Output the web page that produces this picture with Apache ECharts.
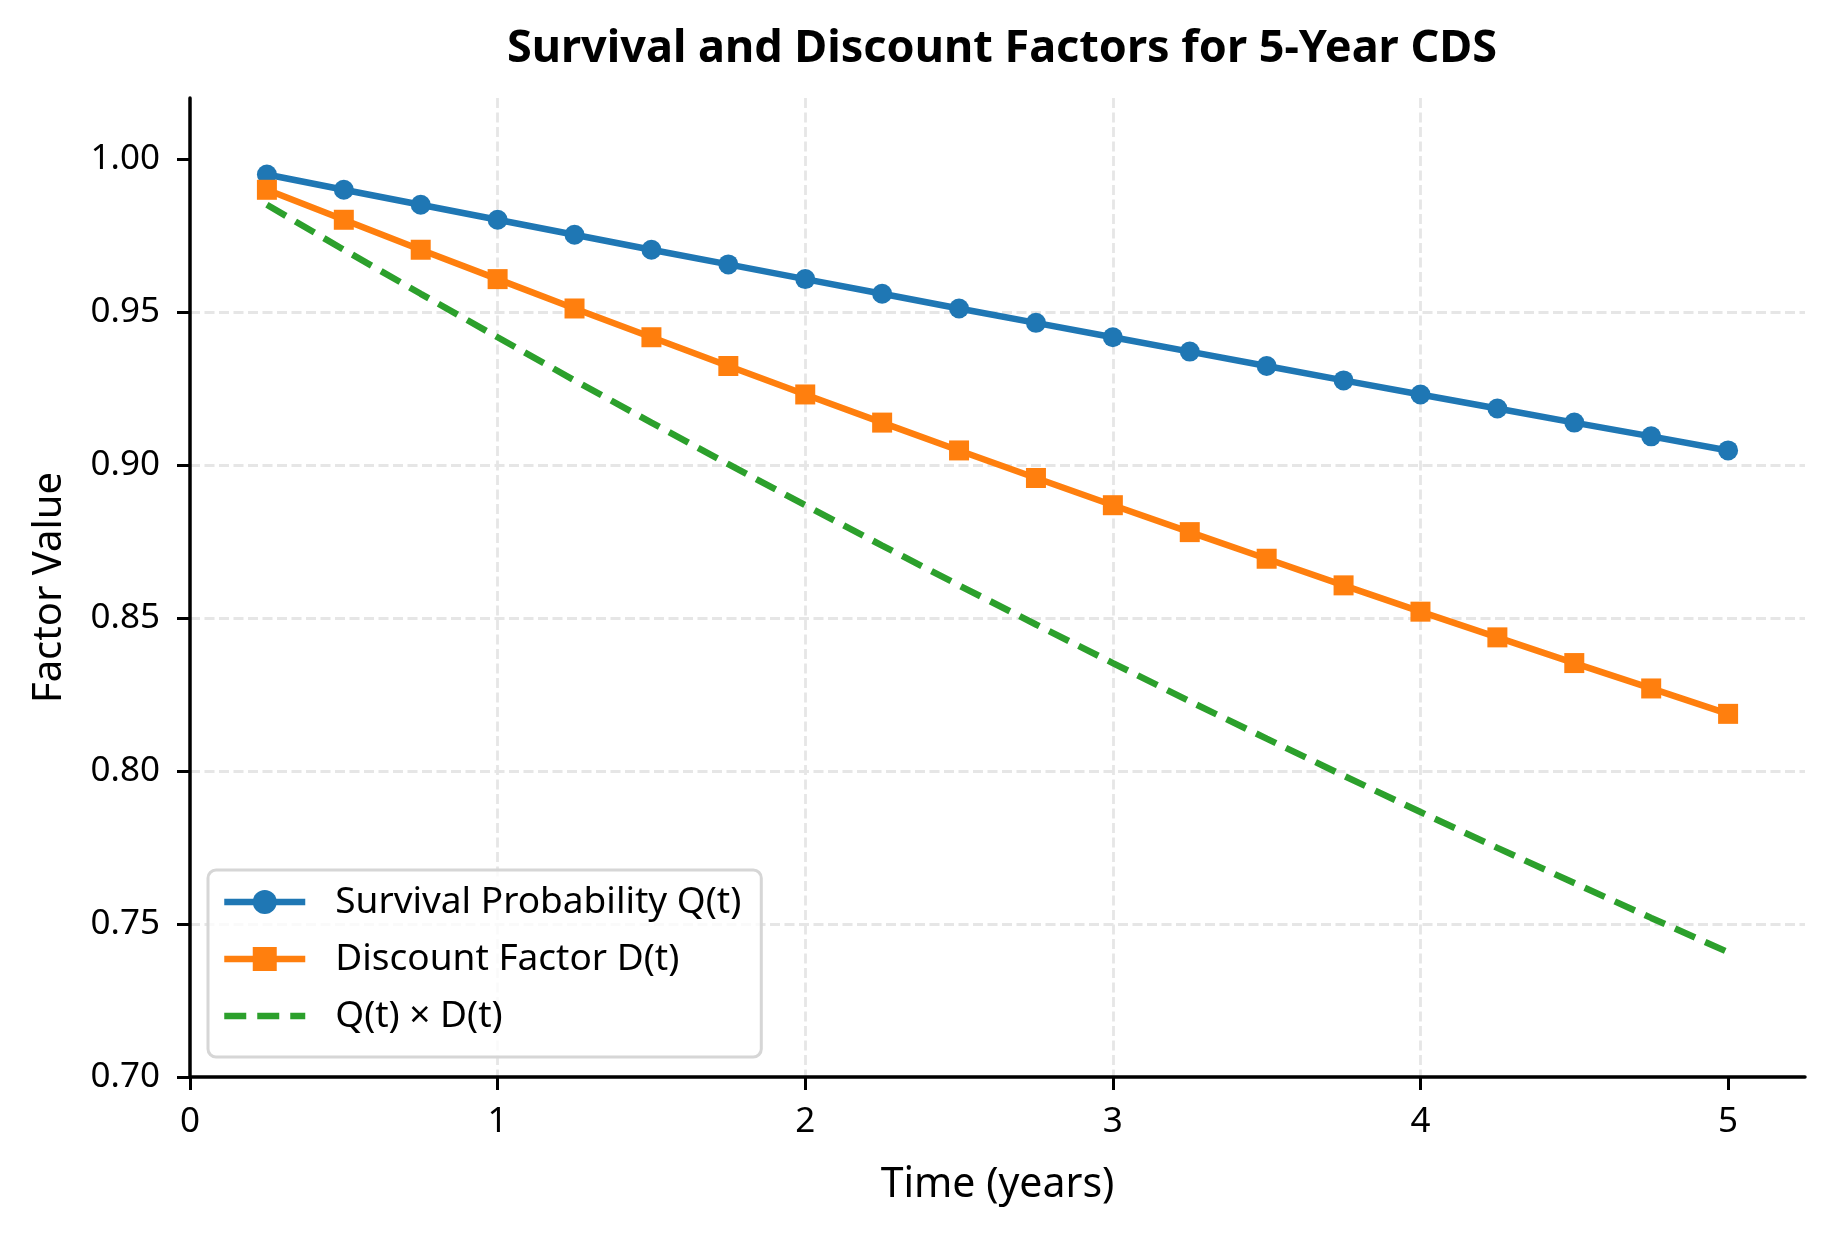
<!DOCTYPE html>
<html>
<head>
<meta charset="utf-8">
<script src="https://cdn.jsdelivr.net/npm/echarts@6/dist/echarts.min.js"></script>
<style>
html,body{margin:0;padding:0;background:#fff;}
#chart{width:1834px;height:1234px;}
</style>
</head>
<body>
<div id="chart"></div>
<script>
const times = [0.25,0.5,0.75,1,1.25,1.5,1.75,2,2.25,2.5,2.75,3,3.25,3.5,3.75,4,4.25,4.5,4.75,5];
const survival = [0.9950,0.9900,0.9851,0.9802,0.9753,0.9704,0.9656,0.9608,0.9560,0.9512,0.9465,0.9418,0.9371,0.9324,0.9277,0.9231,0.9185,0.9139,0.9094,0.9048];
const discount = [0.9900,0.9802,0.9704,0.9608,0.9512,0.9418,0.9324,0.9231,0.9139,0.9048,0.8958,0.8869,0.8781,0.8694,0.8607,0.8521,0.8437,0.8353,0.8270,0.8187];
const product = [0.9851,0.9704,0.9560,0.9418,0.9277,0.9139,0.9003,0.8869,0.8737,0.8607,0.8479,0.8353,0.8228,0.8106,0.7985,0.7866,0.7749,0.7634,0.7520,0.7408];
const xTicks = [0,1,2,3,4,5];
const yTicks = [0.70,0.75,0.80,0.85,0.90,0.95,1.00];
const seriesNames = ['Survival Probability Q(t)','Discount Factor D(t)','Q(t) × D(t)'];

const FONT = 'Noto Sans';
const pair = arr => times.map((t,i)=>[t,arr[i]]);
const chart = echarts.init(document.getElementById('chart'));
const gridLine = {show:true, lineStyle:{color:'#e6e6e6', width:2.8, type:[10,4.5]}};
chart.setOption({
  animation:false,
  backgroundColor:'#ffffff',
  textStyle:{fontFamily:FONT},
  title:{
    text:'Survival and Discount Factors for 5-Year CDS',
    left:997, top:22, textAlign:'center',
    textStyle:{fontFamily:FONT, fontWeight:'bold', fontSize:45, color:'#000'}
  },
  grid:{left:190, right:29, top:98, bottom:157, containLabel:false},
  xAxis:{
    type:'value', min:0, max:5.25, interval:1,
    name:'Time (years)', nameLocation:'middle', nameGap:88,
    nameTextStyle:{fontFamily:FONT, fontSize:41, color:'#000'},
    axisLine:{show:true, onZero:false, lineStyle:{color:'#000', width:3.5}},
    axisTick:{show:true, length:13, lineStyle:{color:'#000', width:3}, customValues:xTicks},
    axisLabel:{show:true, margin:28, fontFamily:FONT, fontSize:35, color:'#000', customValues:xTicks,
      formatter:v=>String(v)},
    splitLine:Object.assign({showMinLine:false, showMaxLine:false}, gridLine)
  },
  yAxis:{
    type:'value', min:0.70, max:1.02, interval:0.05,
    name:'Factor Value', nameLocation:'middle', nameGap:120,
    nameTextStyle:{fontFamily:FONT, fontSize:40, color:'#000'},
    axisLine:{show:true, onZero:false, lineStyle:{color:'#000', width:3.5}},
    axisTick:{show:true, length:13, lineStyle:{color:'#000', width:3}, customValues:yTicks},
    axisLabel:{show:true, margin:30, fontFamily:FONT, fontSize:35, color:'#000', customValues:yTicks,
      formatter:v=>Number(v).toFixed(2)},
    splitLine:Object.assign({showMinLine:false, showMaxLine:false}, gridLine)
  },
  legend:{
    orient:'vertical', left:208, top:870,
    data:[
      {name:seriesNames[0]},
      {name:seriesNames[1]},
      {name:seriesNames[2], itemStyle:{opacity:0}}
    ],
    itemWidth:81, itemHeight:30, itemGap:13,
    padding:[10,20,19,13],
    backgroundColor:'rgba(255,255,255,0.8)',
    borderColor:'#d6d6d6', borderWidth:3, borderRadius:8,
    lineStyle:{width:6.5},
    textStyle:{fontFamily:FONT, fontSize:37, color:'#000', lineHeight:44, padding:[0,0,0,25]}
  },
  series:[
    {name:seriesNames[0], type:'line', data:pair(survival), symbol:'circle', symbolSize:20,
      itemStyle:{color:'#1f77b4'}, lineStyle:{color:'#1f77b4', width:6.5}},
    {name:seriesNames[1], type:'line', data:pair(discount), symbol:'rect', symbolSize:20,
      itemStyle:{color:'#ff7f0e'}, lineStyle:{color:'#ff7f0e', width:6.5}},
    {name:seriesNames[2], type:'line', data:pair(product), showSymbol:false, symbol:'none',
      itemStyle:{color:'#2ca02c'}, lineStyle:{color:'#2ca02c', width:6.5, type:[22,11]}}
  ]
});
</script>
</body>
</html>
